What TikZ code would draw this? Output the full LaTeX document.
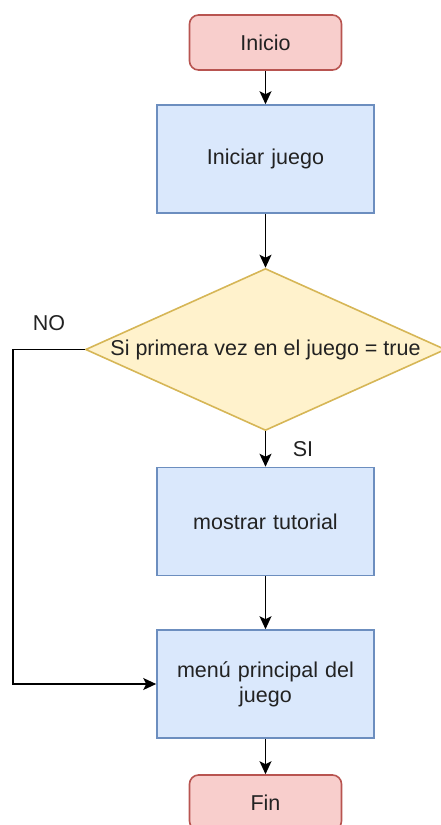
\documentclass[tikz,border=0pt]{standalone}
\usepackage{fontspec}
\setmainfont{Liberation Sans}
\usetikzlibrary{arrows.meta,shapes.geometric}
\definecolor{termfill}{HTML}{F8CECC}
\definecolor{termdraw}{HTML}{B85450}
\definecolor{procfill}{HTML}{DAE8FC}
\definecolor{procdraw}{HTML}{6C8EBF}
\definecolor{decfill}{HTML}{FFF2CC}
\definecolor{decdraw}{HTML}{D6B656}
\definecolor{txt}{HTML}{222222}
\begin{document}
\begin{tikzpicture}[x=1pt,y=-1pt,
  every node/.style={font=\fontsize{21.5}{25}\selectfont, text=txt},
  term/.style={draw=termdraw, fill=termfill, line width=1.6pt, rounded corners=9pt, minimum width=152pt, minimum height=55pt, inner sep=0pt},
  proc/.style={draw=procdraw, fill=procfill, line width=1.6pt, minimum width=217pt, minimum height=108pt, inner sep=0pt, align=center, text width=200pt},
  dec/.style={draw=decdraw, fill=decfill, line width=1.6pt, diamond, minimum width=360pt, minimum height=162pt, inner sep=0pt, aspect=2.22},
  conn/.style={line width=1.6pt, -{Stealth[length=13pt,width=12pt,inset=3pt]}},
  lbl/.style={inner sep=0pt}]
\useasboundingbox (0,0) rectangle (441,825);
\node[term] (inicio) at (265.5,42.5) {Inicio};
\node[proc] (iniciar) at (265.5,159) {Iniciar juego};
\node[dec] (dec) at (265.5,349.5) {};
\node (dectext) at (265.5,349.5) {Si primera vez en el juego = true};
\node[proc] (tut) at (265.5,521.5) {mostrar tutorial};
\node[proc] (menu) at (265.5,684) {menú principal del\\juego};
\node[term] (fin) at (265.5,802.5) {Fin};
\node[lbl] (no) at (49,323) {NO};
\node[lbl] (si) at (303,449) {SI};
\coordinate (c1) at (13,349.5);
\coordinate (c2) at (13,684);
\draw[conn] (inicio) -- (iniciar);
\draw[conn] (iniciar) -- (dec);
\draw[conn] (dec) -- (tut);
\draw[conn] (tut) -- (menu);
\draw[conn] (menu) -- (fin);
\draw[conn] (dec.west) -- (c1) -- (c2) -- (menu.west);
\end{tikzpicture}
\end{document}
